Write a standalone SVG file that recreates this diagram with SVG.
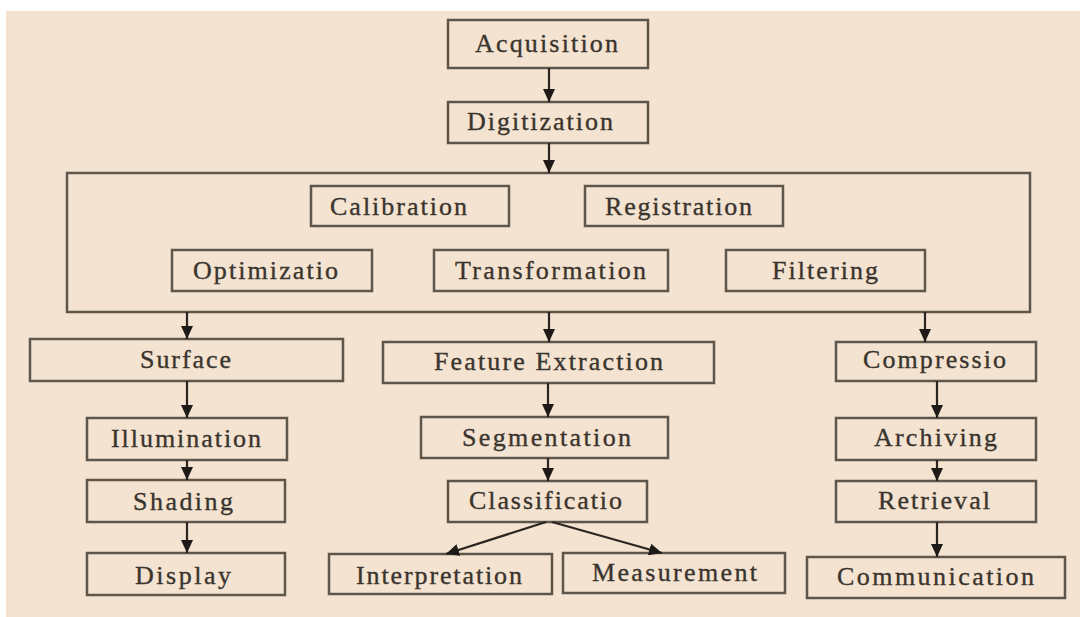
<svg xmlns="http://www.w3.org/2000/svg" width="1080" height="617" viewBox="0 0 1080 617">
<defs>
<style>
.box{fill:#f4e3d0;stroke:#5e554b;stroke-width:2.5}
.lbl{font-family:"Liberation Serif",serif;font-size:26px;fill:#3a342e;stroke:#3a342e;stroke-width:0.35}
.con line{stroke:#2a2521;stroke-width:2.2;marker-end:url(#ah)}
</style>
<marker id="ah" markerUnits="userSpaceOnUse" markerWidth="14" markerHeight="12" refX="13" refY="6" orient="auto">
<path d="M0,0 L13,6 L0,12 z" fill="#1e1a17"/>
</marker>
</defs>
<rect x="0" y="0" width="1080" height="617" fill="#ffffff"/>
<rect x="6" y="11" width="1074" height="606" fill="#f4e3d0"/>
<g id="processing"><rect class="box" x="67" y="173" width="963" height="139"/></g>
<g id="acquisition"><rect class="box" x="448" y="20" width="200" height="48"/><text class="lbl" x="475" y="52" textLength="143" lengthAdjust="spacing">Acquisition</text></g>
<g id="digitization"><rect class="box" x="448" y="102" width="200" height="41"/><text class="lbl" x="467" y="130" textLength="146" lengthAdjust="spacing">Digitization</text></g>
<g id="calibration"><rect class="box" x="311" y="186" width="198" height="40"/><text class="lbl" x="330" y="215" textLength="137" lengthAdjust="spacing">Calibration</text></g>
<g id="registration"><rect class="box" x="585" y="186" width="198" height="40"/><text class="lbl" x="605" y="215" textLength="147" lengthAdjust="spacing">Registration</text></g>
<g id="optimizatio"><rect class="box" x="172" y="250" width="200" height="41"/><text class="lbl" x="193" y="279" textLength="145" lengthAdjust="spacing">Optimizatio</text></g>
<g id="transformation"><rect class="box" x="434" y="250" width="234" height="41"/><text class="lbl" x="455" y="279" textLength="191" lengthAdjust="spacing">Transformation</text></g>
<g id="filtering"><rect class="box" x="726" y="250" width="199" height="41"/><text class="lbl" x="772" y="279" textLength="106" lengthAdjust="spacing">Filtering</text></g>
<g id="surface"><rect class="box" x="30" y="339" width="313" height="42"/><text class="lbl" x="140" y="368" textLength="91" lengthAdjust="spacing">Surface</text></g>
<g id="feature-extraction"><rect class="box" x="383" y="342" width="331" height="41"/><text class="lbl" x="434" y="370" textLength="229" lengthAdjust="spacing">Feature Extraction</text></g>
<g id="compressio"><rect class="box" x="836" y="342" width="200" height="39"/><text class="lbl" x="863" y="368" textLength="143" lengthAdjust="spacing">Compressio</text></g>
<g id="illumination"><rect class="box" x="87" y="418" width="200" height="42"/><text class="lbl" x="111" y="447" textLength="150" lengthAdjust="spacing">Illumination</text></g>
<g id="shading"><rect class="box" x="87" y="480" width="198" height="42"/><text class="lbl" x="133" y="510" textLength="100" lengthAdjust="spacing">Shading</text></g>
<g id="display"><rect class="box" x="87" y="553" width="198" height="42"/><text class="lbl" x="135" y="584" textLength="96" lengthAdjust="spacing">Display</text></g>
<g id="segmentation"><rect class="box" x="421" y="417" width="247" height="41"/><text class="lbl" x="462" y="446" textLength="169" lengthAdjust="spacing">Segmentation</text></g>
<g id="classificatio"><rect class="box" x="448" y="481" width="199" height="41"/><text class="lbl" x="469" y="509" textLength="153" lengthAdjust="spacing">Classificatio</text></g>
<g id="interpretation"><rect class="box" x="329" y="554" width="223" height="40"/><text class="lbl" x="356" y="584" textLength="166" lengthAdjust="spacing">Interpretation</text></g>
<g id="measurement"><rect class="box" x="563" y="553" width="222" height="40"/><text class="lbl" x="592" y="581" textLength="165" lengthAdjust="spacing">Measurement</text></g>
<g id="archiving"><rect class="box" x="836" y="418" width="200" height="42"/><text class="lbl" x="874" y="446" textLength="123" lengthAdjust="spacing">Archiving</text></g>
<g id="retrieval"><rect class="box" x="836" y="481" width="200" height="41"/><text class="lbl" x="878" y="509" textLength="112" lengthAdjust="spacing">Retrieval</text></g>
<g id="communication"><rect class="box" x="807" y="557" width="258" height="41"/><text class="lbl" x="837" y="585" textLength="197" lengthAdjust="spacing">Communication</text></g>
<g id="connectors" class="con">
<line x1="549" y1="68" x2="549" y2="102"/>
<line x1="549" y1="143" x2="549" y2="173"/>
<line x1="187" y1="312" x2="187" y2="339"/>
<line x1="549" y1="312" x2="549" y2="342"/>
<line x1="925" y1="312" x2="925" y2="342"/>
<line x1="187" y1="381" x2="187" y2="418"/>
<line x1="187" y1="460" x2="187" y2="480"/>
<line x1="187" y1="522" x2="187" y2="553"/>
<line x1="548" y1="383" x2="548" y2="417"/>
<line x1="548" y1="458" x2="548" y2="481"/>
<line x1="546" y1="522" x2="446" y2="554"/>
<line x1="552" y1="522" x2="662" y2="553"/>
<line x1="937" y1="381" x2="937" y2="418"/>
<line x1="937" y1="460" x2="937" y2="481"/>
<line x1="937" y1="522" x2="937" y2="557"/>
</g>
</svg>
